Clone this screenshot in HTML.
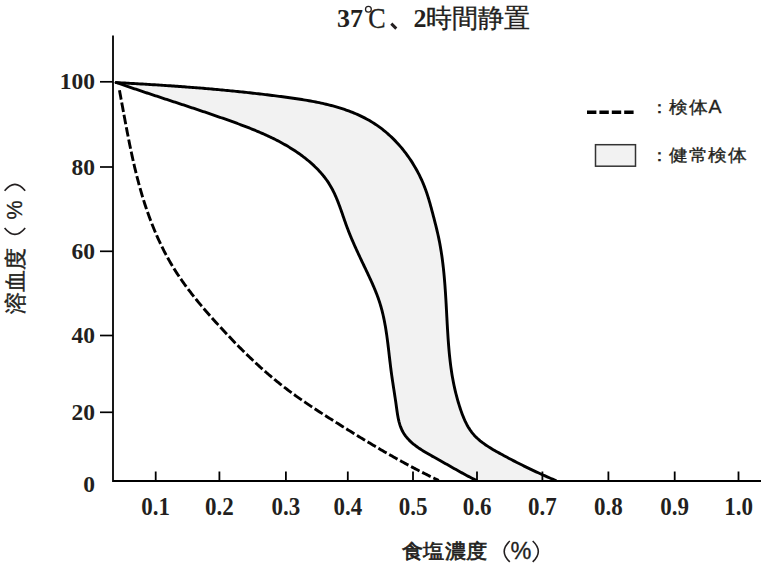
<!DOCTYPE html>
<html><head><meta charset="utf-8"><style>
html,body{margin:0;padding:0;background:#fff;}
body{width:768px;height:566px;position:relative;overflow:hidden;font-family:"Liberation Sans",sans-serif;color:#231f20;}
svg{position:absolute;left:0;top:0;}
.yl{position:absolute;right:673px;font-family:"Liberation Serif",serif;font-weight:bold;font-size:23.5px;line-height:29px;height:29px;}
.xl{position:absolute;top:492px;width:80px;text-align:center;font-family:"Liberation Serif",serif;font-weight:bold;font-size:23px;line-height:29px;transform:scaleY(1.1);transform-origin:50% 50%;}
.title{position:absolute;left:337px;top:2px;font-size:26px;line-height:32px;white-space:nowrap;}
.d{position:absolute;font-family:"Liberation Serif",serif;font-weight:bold;font-size:26px;line-height:32px;top:2.8px;}
.cj{position:absolute;font-size:25.5px;line-height:32px;top:2px;white-space:nowrap;-webkit-text-stroke:0.35px #231f20;}
.cc{position:absolute;font-family:"Liberation Serif",serif;font-size:28px;line-height:32px;top:2.2px;-webkit-text-stroke:0.3px #231f20;transform:scale(0.93,1.07);transform-origin:100% 50%;}
.xt{position:absolute;left:402px;top:535.5px;font-size:21.4px;line-height:30px;white-space:nowrap;letter-spacing:0.4px;transform:scaleY(0.94);transform-origin:0 50%;-webkit-text-stroke:0.7px #231f20;}
.pc{position:absolute;font-size:23.5px;line-height:30px;white-space:nowrap;-webkit-text-stroke:0.3px #231f20;}
.yt{position:absolute;left:15.5px;top:281px;font-size:21.5px;line-height:30px;white-space:nowrap;-webkit-text-stroke:0.45px #231f20;transform:translate(-50%,-50%) rotate(-90deg);}
.lg{position:absolute;left:649.5px;font-size:19.4px;line-height:24px;white-space:nowrap;letter-spacing:0.65px;transform:scaleY(0.9);transform-origin:0 50%;-webkit-text-stroke:0.35px #231f20;}
</style></head><body>
<svg width="768" height="566" viewBox="0 0 768 566">
<path d="M116.08,82.59 L117.86,82.68 L119.63,82.77 L121.40,82.87 L123.17,82.96 L124.94,83.06 L126.71,83.15 L128.47,83.25 L130.24,83.35 L132.00,83.44 L133.76,83.54 L135.52,83.64 L137.27,83.74 L139.03,83.84 L140.78,83.95 L142.53,84.05 L144.28,84.15 L146.03,84.26 L147.78,84.36 L149.53,84.47 L151.27,84.58 L153.02,84.68 L154.76,84.79 L156.50,84.90 L158.24,85.02 L159.98,85.13 L161.72,85.24 L163.46,85.36 L165.19,85.47 L166.93,85.59 L168.66,85.71 L170.39,85.82 L172.13,85.94 L173.86,86.07 L175.59,86.19 L177.32,86.31 L179.05,86.44 L180.78,86.56 L182.50,86.69 L184.23,86.82 L185.96,86.95 L187.68,87.08 L189.41,87.21 L191.13,87.34 L192.86,87.48 L194.58,87.62 L196.31,87.75 L198.03,87.89 L199.75,88.03 L201.47,88.18 L203.20,88.32 L204.92,88.46 L206.64,88.61 L208.36,88.76 L210.08,88.91 L211.81,89.06 L213.53,89.21 L215.25,89.37 L216.97,89.52 L218.69,89.68 L220.41,89.84 L222.13,90.00 L223.85,90.16 L225.58,90.32 L227.30,90.49 L229.02,90.66 L230.74,90.83 L232.47,91.00 L234.19,91.17 L235.91,91.34 L237.64,91.52 L239.36,91.70 L241.09,91.88 L242.81,92.06 L244.54,92.24 L246.26,92.43 L247.99,92.61 L249.72,92.80 L251.45,92.99 L253.17,93.19 L254.90,93.38 L256.63,93.58 L258.37,93.78 L260.10,93.98 L261.83,94.18 L263.56,94.39 L265.30,94.59 L267.04,94.80 L268.77,95.01 L270.51,95.23 L272.25,95.44 L273.99,95.66 L275.73,95.88 L277.47,96.10 L279.22,96.33 L280.96,96.55 L282.71,96.78 L284.46,97.01 L286.20,97.25 L287.95,97.48 L289.70,97.72 L291.45,97.97 L293.20,98.21 L294.95,98.47 L296.70,98.72 L298.45,98.99 L300.20,99.26 L301.94,99.53 L303.69,99.81 L305.43,100.10 L307.17,100.40 L308.91,100.70 L310.65,101.01 L312.38,101.33 L314.12,101.66 L315.84,101.99 L317.57,102.34 L319.29,102.69 L321.01,103.06 L322.72,103.44 L324.43,103.82 L326.13,104.22 L327.83,104.63 L329.52,105.06 L331.21,105.49 L332.90,105.94 L334.57,106.40 L336.24,106.87 L337.91,107.36 L339.57,107.86 L341.22,108.38 L342.86,108.91 L344.50,109.46 L346.13,110.02 L347.75,110.60 L349.36,111.20 L350.97,111.81 L352.56,112.44 L354.15,113.09 L355.73,113.75 L357.30,114.44 L358.86,115.14 L360.41,115.86 L361.95,116.60 L363.48,117.36 L365.00,118.14 L366.50,118.95 L368.00,119.77 L369.49,120.61 L370.96,121.48 L372.43,122.37 L373.88,123.28 L375.31,124.21 L376.74,125.16 L378.15,126.14 L379.55,127.15 L380.94,128.17 L382.31,129.22 L383.67,130.30 L385.02,131.39 L386.35,132.51 L387.67,133.65 L388.97,134.80 L390.26,135.98 L391.54,137.18 L392.80,138.40 L394.04,139.64 L395.27,140.89 L396.48,142.17 L397.68,143.46 L398.86,144.77 L400.02,146.09 L401.17,147.43 L402.30,148.79 L403.41,150.16 L404.50,151.55 L405.58,152.95 L406.64,154.37 L407.69,155.80 L408.71,157.24 L409.72,158.70 L410.70,160.17 L411.67,161.65 L412.62,163.14 L413.55,164.65 L414.46,166.16 L415.35,167.68 L416.23,169.22 L417.08,170.76 L417.91,172.31 L418.72,173.87 L419.51,175.44 L420.28,177.02 L421.02,178.60 L421.75,180.19 L422.46,181.78 L423.14,183.38 L423.80,184.99 L424.44,186.60 L425.06,188.22 L425.65,189.84 L426.23,191.46 L426.79,193.09 L427.33,194.72 L427.86,196.36 L428.37,198.00 L428.88,199.65 L429.36,201.29 L429.84,202.95 L430.31,204.60 L430.77,206.27 L431.23,207.93 L431.67,209.60 L432.12,211.27 L432.56,212.94 L433.00,214.62 L433.43,216.30 L433.87,217.99 L434.31,219.67 L434.74,221.36 L435.18,223.06 L435.61,224.75 L436.03,226.45 L436.45,228.15 L436.86,229.85 L437.26,231.56 L437.66,233.26 L438.04,234.97 L438.42,236.68 L438.78,238.39 L439.13,240.11 L439.47,241.82 L439.80,243.54 L440.11,245.26 L440.42,246.97 L440.71,248.70 L441.00,250.42 L441.27,252.14 L441.53,253.86 L441.79,255.59 L442.03,257.32 L442.27,259.04 L442.50,260.77 L442.72,262.50 L442.93,264.23 L443.13,265.96 L443.33,267.69 L443.51,269.43 L443.69,271.16 L443.87,272.90 L444.03,274.63 L444.20,276.37 L444.35,278.10 L444.50,279.84 L444.64,281.58 L444.78,283.32 L444.92,285.06 L445.05,286.79 L445.17,288.53 L445.29,290.27 L445.41,292.01 L445.52,293.75 L445.63,295.50 L445.74,297.24 L445.85,298.98 L445.95,300.72 L446.05,302.46 L446.15,304.20 L446.24,305.94 L446.34,307.68 L446.43,309.42 L446.53,311.16 L446.62,312.90 L446.71,314.64 L446.80,316.38 L446.90,318.12 L446.99,319.86 L447.09,321.60 L447.18,323.34 L447.28,325.08 L447.38,326.82 L447.48,328.55 L447.58,330.29 L447.69,332.03 L447.80,333.76 L447.91,335.49 L448.02,337.23 L448.14,338.96 L448.26,340.69 L448.39,342.42 L448.52,344.15 L448.66,345.88 L448.80,347.61 L448.95,349.34 L449.10,351.07 L449.26,352.79 L449.43,354.52 L449.60,356.24 L449.78,357.96 L449.97,359.69 L450.17,361.41 L450.38,363.13 L450.59,364.85 L450.82,366.57 L451.05,368.29 L451.30,370.01 L451.56,371.73 L451.82,373.45 L452.10,375.17 L452.40,376.89 L452.70,378.61 L453.02,380.32 L453.34,382.04 L453.69,383.75 L454.04,385.47 L454.41,387.18 L454.79,388.90 L455.19,390.61 L455.60,392.31 L456.02,394.02 L456.46,395.72 L456.91,397.42 L457.38,399.12 L457.86,400.81 L458.35,402.50 L458.86,404.18 L459.38,405.86 L459.92,407.53 L460.47,409.20 L461.04,410.86 L461.63,412.52 L462.23,414.16 L462.86,415.79 L463.51,417.41 L464.19,419.01 L464.89,420.59 L465.63,422.15 L466.40,423.69 L467.20,425.20 L468.04,426.69 L468.92,428.14 L469.84,429.57 L470.80,430.96 L471.81,432.32 L472.86,433.64 L473.97,434.92 L475.12,436.16 L476.31,437.37 L477.55,438.54 L478.83,439.68 L480.14,440.79 L481.49,441.87 L482.86,442.92 L484.27,443.94 L485.71,444.94 L487.16,445.92 L488.64,446.88 L490.14,447.81 L491.65,448.73 L493.18,449.64 L494.71,450.53 L496.26,451.41 L497.80,452.28 L499.36,453.14 L500.91,453.99 L502.46,454.84 L504.01,455.68 L505.56,456.51 L507.10,457.34 L508.65,458.16 L510.20,458.98 L511.75,459.79 L513.29,460.60 L514.84,461.40 L516.39,462.19 L517.94,462.98 L519.49,463.76 L521.04,464.54 L522.59,465.32 L524.14,466.09 L525.70,466.85 L527.25,467.61 L528.81,468.36 L530.37,469.11 L531.94,469.86 L533.50,470.60 L535.07,471.34 L536.64,472.07 L538.22,472.80 L539.79,473.52 L541.37,474.24 L542.96,474.95 L544.55,475.67 L546.14,476.37 L547.73,477.08 L549.34,477.78 L550.94,478.48 L552.55,479.17 L554.16,479.86 L555.78,480.55 L476.56,480.51 L475.17,479.82 L473.79,479.13 L472.43,478.44 L471.08,477.75 L469.74,477.06 L468.42,476.36 L467.10,475.67 L465.80,474.97 L464.50,474.27 L463.22,473.57 L461.93,472.87 L460.66,472.17 L459.39,471.47 L458.13,470.76 L456.87,470.06 L455.61,469.35 L454.35,468.64 L453.10,467.93 L451.84,467.22 L450.59,466.51 L449.33,465.79 L448.07,465.08 L446.81,464.36 L445.55,463.64 L444.28,462.92 L443.00,462.20 L441.72,461.48 L440.43,460.75 L439.13,460.02 L437.82,459.30 L436.51,458.57 L435.18,457.83 L433.85,457.10 L432.52,456.36 L431.18,455.61 L429.85,454.86 L428.52,454.10 L427.19,453.33 L425.86,452.55 L424.55,451.76 L423.25,450.96 L421.96,450.15 L420.68,449.32 L419.42,448.48 L418.18,447.63 L416.96,446.75 L415.76,445.86 L414.58,444.95 L413.43,444.03 L412.31,443.08 L411.22,442.11 L410.16,441.12 L409.14,440.10 L408.15,439.06 L407.21,438.00 L406.30,436.90 L405.43,435.79 L404.61,434.64 L403.83,433.46 L403.11,432.26 L402.43,431.02 L401.80,429.75 L401.23,428.45 L400.70,427.13 L400.21,425.77 L399.76,424.40 L399.36,423.00 L398.98,421.58 L398.64,420.14 L398.32,418.69 L398.03,417.23 L397.76,415.75 L397.50,414.26 L397.27,412.77 L397.04,411.28 L396.83,409.78 L396.62,408.27 L396.41,406.78 L396.21,405.28 L396.00,403.79 L395.79,402.30 L395.57,400.82 L395.35,399.35 L395.13,397.88 L394.91,396.41 L394.69,394.95 L394.47,393.49 L394.24,392.03 L394.02,390.58 L393.79,389.13 L393.57,387.68 L393.34,386.23 L393.12,384.78 L392.90,383.33 L392.68,381.89 L392.46,380.44 L392.25,378.99 L392.03,377.54 L391.83,376.09 L391.62,374.64 L391.42,373.19 L391.23,371.73 L391.03,370.27 L390.85,368.81 L390.66,367.35 L390.48,365.88 L390.31,364.41 L390.13,362.95 L389.96,361.47 L389.78,360.00 L389.61,358.53 L389.44,357.05 L389.27,355.58 L389.10,354.10 L388.93,352.63 L388.76,351.15 L388.59,349.67 L388.42,348.19 L388.24,346.72 L388.06,345.24 L387.88,343.76 L387.69,342.29 L387.50,340.81 L387.31,339.33 L387.11,337.86 L386.91,336.39 L386.70,334.91 L386.48,333.44 L386.26,331.97 L386.03,330.51 L385.80,329.04 L385.56,327.58 L385.31,326.12 L385.05,324.66 L384.78,323.20 L384.50,321.75 L384.22,320.30 L383.92,318.85 L383.61,317.41 L383.30,315.97 L382.97,314.53 L382.63,313.09 L382.27,311.66 L381.91,310.24 L381.53,308.81 L381.14,307.40 L380.74,305.98 L380.32,304.57 L379.88,303.17 L379.43,301.77 L378.97,300.38 L378.49,298.99 L378.00,297.60 L377.50,296.22 L376.98,294.84 L376.46,293.47 L375.92,292.10 L375.37,290.73 L374.81,289.37 L374.24,288.01 L373.66,286.66 L373.08,285.31 L372.49,283.96 L371.89,282.61 L371.28,281.26 L370.67,279.92 L370.06,278.58 L369.44,277.24 L368.82,275.90 L368.19,274.57 L367.56,273.23 L366.93,271.90 L366.30,270.57 L365.67,269.24 L365.03,267.91 L364.40,266.58 L363.77,265.25 L363.13,263.92 L362.50,262.59 L361.87,261.26 L361.24,259.93 L360.61,258.60 L359.98,257.26 L359.36,255.93 L358.74,254.60 L358.11,253.26 L357.50,251.93 L356.88,250.59 L356.27,249.25 L355.66,247.91 L355.06,246.57 L354.46,245.22 L353.86,243.87 L353.27,242.52 L352.68,241.17 L352.10,239.81 L351.52,238.45 L350.95,237.09 L350.38,235.72 L349.83,234.35 L349.27,232.97 L348.73,231.60 L348.19,230.21 L347.65,228.83 L347.13,227.44 L346.61,226.04 L346.10,224.64 L345.60,223.24 L345.10,221.83 L344.60,220.42 L344.11,219.01 L343.62,217.59 L343.13,216.18 L342.65,214.76 L342.16,213.35 L341.66,211.94 L341.17,210.53 L340.67,209.12 L340.17,207.71 L339.66,206.31 L339.14,204.91 L338.62,203.52 L338.08,202.13 L337.54,200.75 L336.98,199.38 L336.41,198.01 L335.83,196.65 L335.24,195.30 L334.63,193.96 L334.00,192.63 L333.35,191.31 L332.69,190.00 L332.01,188.70 L331.30,187.42 L330.58,186.15 L329.83,184.89 L329.06,183.64 L328.26,182.41 L327.44,181.20 L326.60,180.00 L325.74,178.81 L324.86,177.64 L323.95,176.48 L323.03,175.34 L322.08,174.21 L321.12,173.09 L320.14,171.99 L319.14,170.90 L318.13,169.83 L317.10,168.77 L316.05,167.72 L314.99,166.68 L313.92,165.66 L312.83,164.66 L311.73,163.66 L310.61,162.68 L309.49,161.71 L308.35,160.76 L307.21,159.81 L306.05,158.88 L304.89,157.97 L303.72,157.06 L302.54,156.17 L301.35,155.29 L300.16,154.42 L298.96,153.56 L297.75,152.72 L296.53,151.89 L295.31,151.07 L294.08,150.26 L292.84,149.46 L291.60,148.67 L290.35,147.89 L289.09,147.12 L287.83,146.36 L286.56,145.62 L285.29,144.88 L284.01,144.15 L282.72,143.43 L281.43,142.72 L280.13,142.02 L278.83,141.33 L277.53,140.64 L276.22,139.97 L274.90,139.30 L273.58,138.65 L272.25,137.99 L270.92,137.35 L269.59,136.72 L268.25,136.09 L266.91,135.47 L265.57,134.85 L264.22,134.25 L262.86,133.65 L261.51,133.05 L260.15,132.46 L258.79,131.88 L257.42,131.31 L256.05,130.74 L254.68,130.17 L253.31,129.61 L251.93,129.06 L250.55,128.51 L249.17,127.96 L247.79,127.42 L246.40,126.88 L245.02,126.35 L243.63,125.82 L242.24,125.30 L240.85,124.78 L239.46,124.26 L238.07,123.74 L236.67,123.23 L235.28,122.72 L233.88,122.22 L232.49,121.71 L231.09,121.21 L229.69,120.71 L228.30,120.21 L226.90,119.72 L225.50,119.22 L224.10,118.73 L222.71,118.24 L221.31,117.75 L219.91,117.26 L218.51,116.77 L217.12,116.29 L215.72,115.81 L214.32,115.32 L212.92,114.84 L211.52,114.36 L210.12,113.89 L208.73,113.41 L207.33,112.93 L205.93,112.46 L204.53,111.99 L203.13,111.51 L201.73,111.04 L200.33,110.57 L198.93,110.10 L197.53,109.63 L196.13,109.17 L194.73,108.70 L193.33,108.23 L191.93,107.77 L190.53,107.30 L189.13,106.84 L187.73,106.38 L186.33,105.91 L184.93,105.45 L183.53,104.99 L182.13,104.53 L180.73,104.07 L179.33,103.61 L177.93,103.14 L176.53,102.68 L175.12,102.22 L173.72,101.76 L172.32,101.30 L170.92,100.84 L169.52,100.39 L168.12,99.93 L166.72,99.47 L165.31,99.01 L163.91,98.55 L162.51,98.09 L161.11,97.62 L159.71,97.16 L158.30,96.70 L156.90,96.24 L155.50,95.78 L154.10,95.32 L152.70,94.85 L151.29,94.39 L149.89,93.93 L148.49,93.46 L147.09,93.00 L145.68,92.53 L144.28,92.06 L142.88,91.60 L141.48,91.13 L140.07,90.66 L138.67,90.19 L137.27,89.72 L135.87,89.24 L134.46,88.77 L133.06,88.30 L131.66,87.82 L130.25,87.34 L128.85,86.87 L127.45,86.39 L126.05,85.91 L124.64,85.42 L123.24,84.94 L121.84,84.46 L120.43,83.97 L119.03,83.48 L117.63,82.99 L116.22,82.50 Z" fill="#f2f2f2" stroke="none"/>
<path d="M116.22,82.50 L117.63,82.99 L119.03,83.48 L120.43,83.97 L121.84,84.46 L123.24,84.94 L124.64,85.42 L126.05,85.91 L127.45,86.39 L128.85,86.87 L130.25,87.34 L131.66,87.82 L133.06,88.30 L134.46,88.77 L135.87,89.24 L137.27,89.72 L138.67,90.19 L140.07,90.66 L141.48,91.13 L142.88,91.60 L144.28,92.06 L145.68,92.53 L147.09,93.00 L148.49,93.46 L149.89,93.93 L151.29,94.39 L152.70,94.85 L154.10,95.32 L155.50,95.78 L156.90,96.24 L158.30,96.70 L159.71,97.16 L161.11,97.62 L162.51,98.09 L163.91,98.55 L165.31,99.01 L166.72,99.47 L168.12,99.93 L169.52,100.39 L170.92,100.84 L172.32,101.30 L173.72,101.76 L175.12,102.22 L176.53,102.68 L177.93,103.14 L179.33,103.61 L180.73,104.07 L182.13,104.53 L183.53,104.99 L184.93,105.45 L186.33,105.91 L187.73,106.38 L189.13,106.84 L190.53,107.30 L191.93,107.77 L193.33,108.23 L194.73,108.70 L196.13,109.17 L197.53,109.63 L198.93,110.10 L200.33,110.57 L201.73,111.04 L203.13,111.51 L204.53,111.99 L205.93,112.46 L207.33,112.93 L208.73,113.41 L210.12,113.89 L211.52,114.36 L212.92,114.84 L214.32,115.32 L215.72,115.81 L217.12,116.29 L218.51,116.77 L219.91,117.26 L221.31,117.75 L222.71,118.24 L224.10,118.73 L225.50,119.22 L226.90,119.72 L228.30,120.21 L229.69,120.71 L231.09,121.21 L232.49,121.71 L233.88,122.22 L235.28,122.72 L236.67,123.23 L238.07,123.74 L239.46,124.26 L240.85,124.78 L242.24,125.30 L243.63,125.82 L245.02,126.35 L246.40,126.88 L247.79,127.42 L249.17,127.96 L250.55,128.51 L251.93,129.06 L253.31,129.61 L254.68,130.17 L256.05,130.74 L257.42,131.31 L258.79,131.88 L260.15,132.46 L261.51,133.05 L262.86,133.65 L264.22,134.25 L265.57,134.85 L266.91,135.47 L268.25,136.09 L269.59,136.72 L270.92,137.35 L272.25,137.99 L273.58,138.65 L274.90,139.30 L276.22,139.97 L277.53,140.64 L278.83,141.33 L280.13,142.02 L281.43,142.72 L282.72,143.43 L284.01,144.15 L285.29,144.88 L286.56,145.62 L287.83,146.36 L289.09,147.12 L290.35,147.89 L291.60,148.67 L292.84,149.46 L294.08,150.26 L295.31,151.07 L296.53,151.89 L297.75,152.72 L298.96,153.56 L300.16,154.42 L301.35,155.29 L302.54,156.17 L303.72,157.06 L304.89,157.97 L306.05,158.88 L307.21,159.81 L308.35,160.76 L309.49,161.71 L310.61,162.68 L311.73,163.66 L312.83,164.66 L313.92,165.66 L314.99,166.68 L316.05,167.72 L317.10,168.77 L318.13,169.83 L319.14,170.90 L320.14,171.99 L321.12,173.09 L322.08,174.21 L323.03,175.34 L323.95,176.48 L324.86,177.64 L325.74,178.81 L326.60,180.00 L327.44,181.20 L328.26,182.41 L329.06,183.64 L329.83,184.89 L330.58,186.15 L331.30,187.42 L332.01,188.70 L332.69,190.00 L333.35,191.31 L334.00,192.63 L334.63,193.96 L335.24,195.30 L335.83,196.65 L336.41,198.01 L336.98,199.38 L337.54,200.75 L338.08,202.13 L338.62,203.52 L339.14,204.91 L339.66,206.31 L340.17,207.71 L340.67,209.12 L341.17,210.53 L341.66,211.94 L342.16,213.35 L342.65,214.76 L343.13,216.18 L343.62,217.59 L344.11,219.01 L344.60,220.42 L345.10,221.83 L345.60,223.24 L346.10,224.64 L346.61,226.04 L347.13,227.44 L347.65,228.83 L348.19,230.21 L348.73,231.60 L349.27,232.97 L349.83,234.35 L350.38,235.72 L350.95,237.09 L351.52,238.45 L352.10,239.81 L352.68,241.17 L353.27,242.52 L353.86,243.87 L354.46,245.22 L355.06,246.57 L355.66,247.91 L356.27,249.25 L356.88,250.59 L357.50,251.93 L358.11,253.26 L358.74,254.60 L359.36,255.93 L359.98,257.26 L360.61,258.60 L361.24,259.93 L361.87,261.26 L362.50,262.59 L363.13,263.92 L363.77,265.25 L364.40,266.58 L365.03,267.91 L365.67,269.24 L366.30,270.57 L366.93,271.90 L367.56,273.23 L368.19,274.57 L368.82,275.90 L369.44,277.24 L370.06,278.58 L370.67,279.92 L371.28,281.26 L371.89,282.61 L372.49,283.96 L373.08,285.31 L373.66,286.66 L374.24,288.01 L374.81,289.37 L375.37,290.73 L375.92,292.10 L376.46,293.47 L376.98,294.84 L377.50,296.22 L378.00,297.60 L378.49,298.99 L378.97,300.38 L379.43,301.77 L379.88,303.17 L380.32,304.57 L380.74,305.98 L381.14,307.40 L381.53,308.81 L381.91,310.24 L382.27,311.66 L382.63,313.09 L382.97,314.53 L383.30,315.97 L383.61,317.41 L383.92,318.85 L384.22,320.30 L384.50,321.75 L384.78,323.20 L385.05,324.66 L385.31,326.12 L385.56,327.58 L385.80,329.04 L386.03,330.51 L386.26,331.97 L386.48,333.44 L386.70,334.91 L386.91,336.39 L387.11,337.86 L387.31,339.33 L387.50,340.81 L387.69,342.29 L387.88,343.76 L388.06,345.24 L388.24,346.72 L388.42,348.19 L388.59,349.67 L388.76,351.15 L388.93,352.63 L389.10,354.10 L389.27,355.58 L389.44,357.05 L389.61,358.53 L389.78,360.00 L389.96,361.47 L390.13,362.95 L390.31,364.41 L390.48,365.88 L390.66,367.35 L390.85,368.81 L391.03,370.27 L391.23,371.73 L391.42,373.19 L391.62,374.64 L391.83,376.09 L392.03,377.54 L392.25,378.99 L392.46,380.44 L392.68,381.89 L392.90,383.33 L393.12,384.78 L393.34,386.23 L393.57,387.68 L393.79,389.13 L394.02,390.58 L394.24,392.03 L394.47,393.49 L394.69,394.95 L394.91,396.41 L395.13,397.88 L395.35,399.35 L395.57,400.82 L395.79,402.30 L396.00,403.79 L396.21,405.28 L396.41,406.78 L396.62,408.27 L396.83,409.78 L397.04,411.28 L397.27,412.77 L397.50,414.26 L397.76,415.75 L398.03,417.23 L398.32,418.69 L398.64,420.14 L398.98,421.58 L399.36,423.00 L399.76,424.40 L400.21,425.77 L400.70,427.13 L401.23,428.45 L401.80,429.75 L402.43,431.02 L403.11,432.26 L403.83,433.46 L404.61,434.64 L405.43,435.79 L406.30,436.90 L407.21,438.00 L408.15,439.06 L409.14,440.10 L410.16,441.12 L411.22,442.11 L412.31,443.08 L413.43,444.03 L414.58,444.95 L415.76,445.86 L416.96,446.75 L418.18,447.63 L419.42,448.48 L420.68,449.32 L421.96,450.15 L423.25,450.96 L424.55,451.76 L425.86,452.55 L427.19,453.33 L428.52,454.10 L429.85,454.86 L431.18,455.61 L432.52,456.36 L433.85,457.10 L435.18,457.83 L436.51,458.57 L437.82,459.30 L439.13,460.02 L440.43,460.75 L441.72,461.48 L443.00,462.20 L444.28,462.92 L445.55,463.64 L446.81,464.36 L448.07,465.08 L449.33,465.79 L450.59,466.51 L451.84,467.22 L453.10,467.93 L454.35,468.64 L455.61,469.35 L456.87,470.06 L458.13,470.76 L459.39,471.47 L460.66,472.17 L461.93,472.87 L463.22,473.57 L464.50,474.27 L465.80,474.97 L467.10,475.67 L468.42,476.36 L469.74,477.06 L471.08,477.75 L472.43,478.44 L473.79,479.13 L475.17,479.82 L476.56,480.51" fill="none" stroke="#000" stroke-width="2.9" stroke-linecap="round" stroke-linejoin="round"/>
<path d="M116.08,82.59 L117.86,82.68 L119.63,82.77 L121.40,82.87 L123.17,82.96 L124.94,83.06 L126.71,83.15 L128.47,83.25 L130.24,83.35 L132.00,83.44 L133.76,83.54 L135.52,83.64 L137.27,83.74 L139.03,83.84 L140.78,83.95 L142.53,84.05 L144.28,84.15 L146.03,84.26 L147.78,84.36 L149.53,84.47 L151.27,84.58 L153.02,84.68 L154.76,84.79 L156.50,84.90 L158.24,85.02 L159.98,85.13 L161.72,85.24 L163.46,85.36 L165.19,85.47 L166.93,85.59 L168.66,85.71 L170.39,85.82 L172.13,85.94 L173.86,86.07 L175.59,86.19 L177.32,86.31 L179.05,86.44 L180.78,86.56 L182.50,86.69 L184.23,86.82 L185.96,86.95 L187.68,87.08 L189.41,87.21 L191.13,87.34 L192.86,87.48 L194.58,87.62 L196.31,87.75 L198.03,87.89 L199.75,88.03 L201.47,88.18 L203.20,88.32 L204.92,88.46 L206.64,88.61 L208.36,88.76 L210.08,88.91 L211.81,89.06 L213.53,89.21 L215.25,89.37 L216.97,89.52 L218.69,89.68 L220.41,89.84 L222.13,90.00 L223.85,90.16 L225.58,90.32 L227.30,90.49 L229.02,90.66 L230.74,90.83 L232.47,91.00 L234.19,91.17 L235.91,91.34 L237.64,91.52 L239.36,91.70 L241.09,91.88 L242.81,92.06 L244.54,92.24 L246.26,92.43 L247.99,92.61 L249.72,92.80 L251.45,92.99 L253.17,93.19 L254.90,93.38 L256.63,93.58 L258.37,93.78 L260.10,93.98 L261.83,94.18 L263.56,94.39 L265.30,94.59 L267.04,94.80 L268.77,95.01 L270.51,95.23 L272.25,95.44 L273.99,95.66 L275.73,95.88 L277.47,96.10 L279.22,96.33 L280.96,96.55 L282.71,96.78 L284.46,97.01 L286.20,97.25 L287.95,97.48 L289.70,97.72 L291.45,97.97 L293.20,98.21 L294.95,98.47 L296.70,98.72 L298.45,98.99 L300.20,99.26 L301.94,99.53 L303.69,99.81 L305.43,100.10 L307.17,100.40 L308.91,100.70 L310.65,101.01 L312.38,101.33 L314.12,101.66 L315.84,101.99 L317.57,102.34 L319.29,102.69 L321.01,103.06 L322.72,103.44 L324.43,103.82 L326.13,104.22 L327.83,104.63 L329.52,105.06 L331.21,105.49 L332.90,105.94 L334.57,106.40 L336.24,106.87 L337.91,107.36 L339.57,107.86 L341.22,108.38 L342.86,108.91 L344.50,109.46 L346.13,110.02 L347.75,110.60 L349.36,111.20 L350.97,111.81 L352.56,112.44 L354.15,113.09 L355.73,113.75 L357.30,114.44 L358.86,115.14 L360.41,115.86 L361.95,116.60 L363.48,117.36 L365.00,118.14 L366.50,118.95 L368.00,119.77 L369.49,120.61 L370.96,121.48 L372.43,122.37 L373.88,123.28 L375.31,124.21 L376.74,125.16 L378.15,126.14 L379.55,127.15 L380.94,128.17 L382.31,129.22 L383.67,130.30 L385.02,131.39 L386.35,132.51 L387.67,133.65 L388.97,134.80 L390.26,135.98 L391.54,137.18 L392.80,138.40 L394.04,139.64 L395.27,140.89 L396.48,142.17 L397.68,143.46 L398.86,144.77 L400.02,146.09 L401.17,147.43 L402.30,148.79 L403.41,150.16 L404.50,151.55 L405.58,152.95 L406.64,154.37 L407.69,155.80 L408.71,157.24 L409.72,158.70 L410.70,160.17 L411.67,161.65 L412.62,163.14 L413.55,164.65 L414.46,166.16 L415.35,167.68 L416.23,169.22 L417.08,170.76 L417.91,172.31 L418.72,173.87 L419.51,175.44 L420.28,177.02 L421.02,178.60 L421.75,180.19 L422.46,181.78 L423.14,183.38 L423.80,184.99 L424.44,186.60 L425.06,188.22 L425.65,189.84 L426.23,191.46 L426.79,193.09 L427.33,194.72 L427.86,196.36 L428.37,198.00 L428.88,199.65 L429.36,201.29 L429.84,202.95 L430.31,204.60 L430.77,206.27 L431.23,207.93 L431.67,209.60 L432.12,211.27 L432.56,212.94 L433.00,214.62 L433.43,216.30 L433.87,217.99 L434.31,219.67 L434.74,221.36 L435.18,223.06 L435.61,224.75 L436.03,226.45 L436.45,228.15 L436.86,229.85 L437.26,231.56 L437.66,233.26 L438.04,234.97 L438.42,236.68 L438.78,238.39 L439.13,240.11 L439.47,241.82 L439.80,243.54 L440.11,245.26 L440.42,246.97 L440.71,248.70 L441.00,250.42 L441.27,252.14 L441.53,253.86 L441.79,255.59 L442.03,257.32 L442.27,259.04 L442.50,260.77 L442.72,262.50 L442.93,264.23 L443.13,265.96 L443.33,267.69 L443.51,269.43 L443.69,271.16 L443.87,272.90 L444.03,274.63 L444.20,276.37 L444.35,278.10 L444.50,279.84 L444.64,281.58 L444.78,283.32 L444.92,285.06 L445.05,286.79 L445.17,288.53 L445.29,290.27 L445.41,292.01 L445.52,293.75 L445.63,295.50 L445.74,297.24 L445.85,298.98 L445.95,300.72 L446.05,302.46 L446.15,304.20 L446.24,305.94 L446.34,307.68 L446.43,309.42 L446.53,311.16 L446.62,312.90 L446.71,314.64 L446.80,316.38 L446.90,318.12 L446.99,319.86 L447.09,321.60 L447.18,323.34 L447.28,325.08 L447.38,326.82 L447.48,328.55 L447.58,330.29 L447.69,332.03 L447.80,333.76 L447.91,335.49 L448.02,337.23 L448.14,338.96 L448.26,340.69 L448.39,342.42 L448.52,344.15 L448.66,345.88 L448.80,347.61 L448.95,349.34 L449.10,351.07 L449.26,352.79 L449.43,354.52 L449.60,356.24 L449.78,357.96 L449.97,359.69 L450.17,361.41 L450.38,363.13 L450.59,364.85 L450.82,366.57 L451.05,368.29 L451.30,370.01 L451.56,371.73 L451.82,373.45 L452.10,375.17 L452.40,376.89 L452.70,378.61 L453.02,380.32 L453.34,382.04 L453.69,383.75 L454.04,385.47 L454.41,387.18 L454.79,388.90 L455.19,390.61 L455.60,392.31 L456.02,394.02 L456.46,395.72 L456.91,397.42 L457.38,399.12 L457.86,400.81 L458.35,402.50 L458.86,404.18 L459.38,405.86 L459.92,407.53 L460.47,409.20 L461.04,410.86 L461.63,412.52 L462.23,414.16 L462.86,415.79 L463.51,417.41 L464.19,419.01 L464.89,420.59 L465.63,422.15 L466.40,423.69 L467.20,425.20 L468.04,426.69 L468.92,428.14 L469.84,429.57 L470.80,430.96 L471.81,432.32 L472.86,433.64 L473.97,434.92 L475.12,436.16 L476.31,437.37 L477.55,438.54 L478.83,439.68 L480.14,440.79 L481.49,441.87 L482.86,442.92 L484.27,443.94 L485.71,444.94 L487.16,445.92 L488.64,446.88 L490.14,447.81 L491.65,448.73 L493.18,449.64 L494.71,450.53 L496.26,451.41 L497.80,452.28 L499.36,453.14 L500.91,453.99 L502.46,454.84 L504.01,455.68 L505.56,456.51 L507.10,457.34 L508.65,458.16 L510.20,458.98 L511.75,459.79 L513.29,460.60 L514.84,461.40 L516.39,462.19 L517.94,462.98 L519.49,463.76 L521.04,464.54 L522.59,465.32 L524.14,466.09 L525.70,466.85 L527.25,467.61 L528.81,468.36 L530.37,469.11 L531.94,469.86 L533.50,470.60 L535.07,471.34 L536.64,472.07 L538.22,472.80 L539.79,473.52 L541.37,474.24 L542.96,474.95 L544.55,475.67 L546.14,476.37 L547.73,477.08 L549.34,477.78 L550.94,478.48 L552.55,479.17 L554.16,479.86 L555.78,480.55" fill="none" stroke="#000" stroke-width="2.9" stroke-linecap="round" stroke-linejoin="round"/>
<path d="M119.46,90.28 L119.70,91.59 L119.95,92.90 L120.19,94.21 L120.43,95.52 L120.68,96.83 L120.92,98.14 L121.16,99.45 L121.40,100.76 L121.65,102.07 L121.89,103.38 L122.13,104.69 L122.37,106.00 L122.61,107.31 L122.85,108.62 L123.09,109.93 L123.33,111.24 L123.57,112.55 L123.82,113.86 L124.06,115.17 L124.30,116.48 L124.54,117.79 L124.79,119.09 L125.03,120.40 L125.27,121.71 L125.52,123.02 L125.76,124.33 L126.01,125.64 L126.26,126.94 L126.51,128.25 L126.75,129.56 L127.00,130.86 L127.26,132.17 L127.51,133.48 L127.76,134.78 L128.02,136.09 L128.27,137.39 L128.53,138.70 L128.79,140.00 L129.05,141.31 L129.31,142.61 L129.58,143.92 L129.84,145.22 L130.11,146.52 L130.38,147.82 L130.65,149.12 L130.92,150.43 L131.20,151.73 L131.48,153.03 L131.75,154.33 L132.04,155.62 L132.32,156.92 L132.61,158.22 L132.89,159.52 L133.19,160.81 L133.48,162.11 L133.77,163.41 L134.07,164.70 L134.37,166.00 L134.68,167.29 L134.99,168.58 L135.30,169.87 L135.61,171.17 L135.92,172.46 L136.24,173.75 L136.56,175.03 L136.89,176.32 L137.22,177.61 L137.55,178.90 L137.88,180.18 L138.22,181.47 L138.56,182.75 L138.91,184.04 L139.26,185.32 L139.61,186.60 L139.97,187.88 L140.33,189.16 L140.69,190.44 L141.06,191.72 L141.43,193.00 L141.81,194.27 L142.19,195.55 L142.57,196.82 L142.96,198.10 L143.35,199.37 L143.75,200.64 L144.15,201.91 L144.56,203.18 L144.97,204.45 L145.38,205.71 L145.80,206.98 L146.22,208.24 L146.65,209.51 L147.09,210.77 L147.52,212.03 L147.97,213.29 L148.42,214.55 L148.87,215.80 L149.33,217.06 L149.79,218.31 L150.26,219.56 L150.73,220.81 L151.21,222.06 L151.69,223.30 L152.18,224.55 L152.67,225.79 L153.17,227.03 L153.67,228.27 L154.18,229.50 L154.69,230.73 L155.21,231.96 L155.73,233.19 L156.26,234.42 L156.79,235.64 L157.33,236.86 L157.88,238.08 L158.43,239.29 L158.98,240.51 L159.54,241.72 L160.11,242.92 L160.68,244.13 L161.26,245.33 L161.84,246.53 L162.43,247.72 L163.02,248.91 L163.62,250.10 L164.23,251.29 L164.84,252.47 L165.46,253.65 L166.08,254.82 L166.71,255.99 L167.34,257.16 L167.98,258.32 L168.63,259.48 L169.28,260.64 L169.94,261.79 L170.60,262.94 L171.27,264.09 L171.95,265.23 L172.63,266.36 L173.32,267.50 L174.01,268.62 L174.71,269.75 L175.42,270.87 L176.13,271.98 L176.85,273.10 L177.57,274.20 L178.30,275.31 L179.04,276.41 L179.78,277.51 L180.53,278.60 L181.28,279.69 L182.03,280.77 L182.80,281.85 L183.56,282.93 L184.33,284.01 L185.11,285.08 L185.89,286.15 L186.68,287.21 L187.47,288.27 L188.26,289.33 L189.06,290.39 L189.87,291.44 L190.67,292.49 L191.49,293.54 L192.30,294.58 L193.12,295.62 L193.95,296.66 L194.78,297.70 L195.61,298.73 L196.44,299.76 L197.28,300.79 L198.13,301.82 L198.97,302.84 L199.82,303.86 L200.67,304.88 L201.53,305.90 L202.39,306.91 L203.25,307.92 L204.12,308.93 L204.98,309.94 L205.85,310.95 L206.73,311.95 L207.60,312.96 L208.48,313.96 L209.36,314.96 L210.24,315.95 L211.13,316.95 L212.01,317.95 L212.90,318.94 L213.79,319.93 L214.69,320.92 L215.58,321.91 L216.48,322.90 L217.37,323.89 L218.27,324.88 L219.17,325.86 L220.08,326.84 L220.98,327.83 L221.89,328.81 L222.79,329.79 L223.70,330.77 L224.61,331.75 L225.52,332.72 L226.44,333.70 L227.35,334.67 L228.27,335.64 L229.19,336.61 L230.11,337.58 L231.03,338.55 L231.96,339.51 L232.88,340.48 L233.81,341.44 L234.74,342.40 L235.67,343.35 L236.61,344.31 L237.54,345.26 L238.48,346.22 L239.42,347.17 L240.36,348.11 L241.30,349.06 L242.25,350.00 L243.20,350.94 L244.15,351.88 L245.10,352.82 L246.05,353.75 L247.01,354.69 L247.97,355.61 L248.93,356.54 L249.89,357.47 L250.85,358.39 L251.82,359.31 L252.79,360.22 L253.76,361.14 L254.74,362.05 L255.71,362.96 L256.69,363.86 L257.67,364.77 L258.66,365.67 L259.64,366.56 L260.63,367.46 L261.62,368.35 L262.61,369.23 L263.61,370.12 L264.61,371.00 L265.61,371.88 L266.61,372.75 L267.62,373.63 L268.62,374.49 L269.64,375.36 L270.65,376.22 L271.67,377.08 L272.68,377.93 L273.71,378.78 L274.73,379.63 L275.76,380.48 L276.79,381.32 L277.82,382.15 L278.85,382.99 L279.89,383.82 L280.93,384.64 L281.98,385.46 L283.02,386.28 L284.07,387.09 L285.13,387.90 L286.18,388.71 L287.24,389.51 L288.30,390.31 L289.36,391.10 L290.43,391.89 L291.50,392.68 L292.57,393.47 L293.64,394.25 L294.72,395.02 L295.79,395.80 L296.87,396.57 L297.96,397.34 L299.04,398.10 L300.13,398.87 L301.22,399.63 L302.31,400.38 L303.40,401.14 L304.49,401.89 L305.59,402.64 L306.69,403.38 L307.79,404.13 L308.89,404.87 L309.99,405.61 L311.10,406.35 L312.21,407.08 L313.31,407.82 L314.42,408.55 L315.53,409.28 L316.65,410.01 L317.76,410.73 L318.87,411.46 L319.99,412.18 L321.11,412.90 L322.23,413.62 L323.34,414.34 L324.46,415.06 L325.59,415.77 L326.71,416.49 L327.83,417.20 L328.95,417.92 L330.08,418.63 L331.20,419.34 L332.33,420.05 L333.45,420.76 L334.58,421.47 L335.71,422.18 L336.83,422.89 L337.96,423.60 L339.09,424.30 L340.22,425.01 L341.35,425.72 L342.48,426.42 L343.61,427.13 L344.74,427.83 L345.87,428.54 L347.00,429.24 L348.13,429.94 L349.26,430.64 L350.40,431.34 L351.53,432.04 L352.66,432.74 L353.80,433.44 L354.93,434.14 L356.07,434.84 L357.20,435.53 L358.34,436.23 L359.48,436.92 L360.61,437.62 L361.75,438.31 L362.89,439.00 L364.03,439.69 L365.17,440.38 L366.31,441.06 L367.45,441.75 L368.60,442.44 L369.74,443.12 L370.88,443.80 L372.03,444.48 L373.17,445.17 L374.32,445.84 L375.46,446.52 L376.61,447.20 L377.76,447.87 L378.91,448.55 L380.06,449.22 L381.21,449.89 L382.36,450.56 L383.51,451.23 L384.66,451.89 L385.82,452.56 L386.97,453.22 L388.13,453.88 L389.28,454.54 L390.44,455.20 L391.60,455.86 L392.76,456.51 L393.92,457.17 L395.08,457.82 L396.24,458.47 L397.40,459.12 L398.56,459.76 L399.73,460.41 L400.89,461.05 L402.06,461.69 L403.23,462.33 L404.39,462.97 L405.56,463.60 L406.73,464.23 L407.90,464.87 L409.08,465.49 L410.25,466.12 L411.42,466.74 L412.60,467.37 L413.78,467.99 L414.95,468.61 L416.13,469.22 L417.31,469.84 L418.49,470.45 L419.67,471.06 L420.86,471.66 L422.04,472.27 L423.23,472.87 L424.41,473.47 L425.60,474.07 L426.79,474.66 L427.98,475.25 L429.17,475.84 L430.36,476.43 L431.55,477.02 L432.75,477.60 L433.94,478.18 L435.14,478.76 L436.34,479.33 L437.54,479.90 L438.74,480.47" fill="none" stroke="#000" stroke-width="2.9" stroke-dasharray="9.5 3"/>
<path d="M113,35.5 V481 H761" fill="none" stroke="#000" stroke-width="1.8"/>
<line x1="100" y1="81.8" x2="113" y2="81.8" stroke="#000" stroke-width="1.7"/>
<line x1="100" y1="167.0" x2="113" y2="167.0" stroke="#000" stroke-width="1.7"/>
<line x1="100" y1="251.3" x2="113" y2="251.3" stroke="#000" stroke-width="1.7"/>
<line x1="100" y1="335.5" x2="113" y2="335.5" stroke="#000" stroke-width="1.7"/>
<line x1="100" y1="412.3" x2="113" y2="412.3" stroke="#000" stroke-width="1.7"/>
<line x1="155.7" y1="471.5" x2="155.7" y2="481" stroke="#000" stroke-width="1.8"/>
<line x1="219.4" y1="471.5" x2="219.4" y2="481" stroke="#000" stroke-width="1.8"/>
<line x1="285.9" y1="471.5" x2="285.9" y2="481" stroke="#000" stroke-width="1.8"/>
<line x1="347.8" y1="471.5" x2="347.8" y2="481" stroke="#000" stroke-width="1.8"/>
<line x1="413.0" y1="471.5" x2="413.0" y2="481" stroke="#000" stroke-width="1.8"/>
<line x1="477.0" y1="471.5" x2="477.0" y2="481" stroke="#000" stroke-width="1.8"/>
<line x1="542.4" y1="471.5" x2="542.4" y2="481" stroke="#000" stroke-width="1.8"/>
<line x1="608.4" y1="471.5" x2="608.4" y2="481" stroke="#000" stroke-width="1.8"/>
<line x1="674.7" y1="471.5" x2="674.7" y2="481" stroke="#000" stroke-width="1.8"/>
<line x1="738.5" y1="471.5" x2="738.5" y2="481" stroke="#000" stroke-width="1.8"/>
<line x1="587" y1="112.2" x2="634" y2="112.2" stroke="#000" stroke-width="3.5" stroke-dasharray="9.4 3"/>
<rect x="595.5" y="144.7" width="40" height="21.5" fill="#f2f2f2" stroke="#333" stroke-width="1.5"/>
<path d="M391.3,23.6 L396.3,28.6" stroke="#231f20" stroke-width="2.9" stroke-linecap="butt"/>
<circle cx="368.4" cy="9.3" r="2.9" fill="none" stroke="#231f20" stroke-width="1.3"/>
<path d="M509.8,541 Q498.6,551.4 509.8,561.8" fill="none" stroke="#231f20" stroke-width="1.6"/>
<path d="M532.7,541 Q543.9,551.4 532.7,561.8" fill="none" stroke="#231f20" stroke-width="1.6"/>
<path d="M4.6,190.8 Q14.9,178 25.2,190.8" fill="none" stroke="#231f20" stroke-width="1.6"/>
<path d="M4.6,228 Q14.9,240.8 25.2,228" fill="none" stroke="#231f20" stroke-width="1.6"/>
</svg>
<div class="yl" style="top:67.3px">100</div>
<div class="yl" style="top:152.5px">80</div>
<div class="yl" style="top:236.8px">60</div>
<div class="yl" style="top:321.0px">40</div>
<div class="yl" style="top:397.8px">20</div>
<div class="yl" style="top:470.0px">0</div>
<div class="xl" style="left:115.7px">0.1</div>
<div class="xl" style="left:179.4px">0.2</div>
<div class="xl" style="left:245.9px">0.3</div>
<div class="xl" style="left:307.8px">0.4</div>
<div class="xl" style="left:373.0px">0.5</div>
<div class="xl" style="left:437.0px">0.6</div>
<div class="xl" style="left:502.4px">0.7</div>
<div class="xl" style="left:568.4px">0.8</div>
<div class="xl" style="left:634.7px">0.9</div>
<div class="xl" style="left:698.5px">1.0</div>
<div class="d" style="left:337px">37</div>
<div class="cc" style="left:367.4px">C</div>
<div class="d" style="left:413.5px">2</div>
<div class="cj" style="left:426px">時間静置</div>
<div class="xt">食塩濃度</div>
<div class="pc" style="left:510.5px;top:536px">%</div>
<div class="yt">溶血度</div>
<div class="pc" style="left:15.3px;top:210px;font-size:21.5px;transform:translate(-50%,-50%) rotate(-90deg);">%</div>
<div class="lg" style="top:95px">：検体A</div>
<div class="lg" style="top:143px">：健常検体</div>
</body></html>
